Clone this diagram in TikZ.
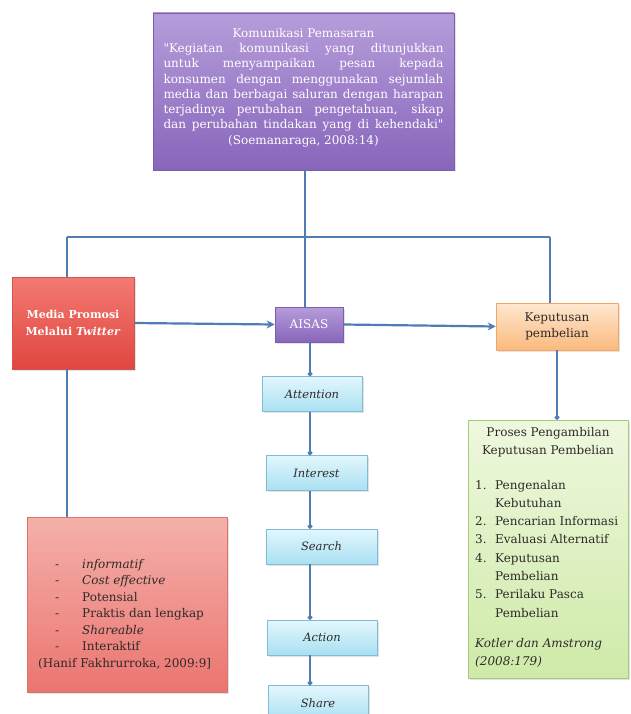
\documentclass[tikz,border=0pt]{standalone}
\usepackage{fontspec}
\setmainfont{DejaVu Serif}
\newfontfamily\plainfont{DejaVu Serif}
\usetikzlibrary{arrows.meta,shadows}

\definecolor{linkblue}{HTML}{4F7DB3}
\definecolor{purpletop}{HTML}{B59DDA}
\definecolor{purplebot}{HTML}{8865BB}
\definecolor{purpleedge}{HTML}{7E5DAE}
\definecolor{redtop}{HTML}{F27A72}
\definecolor{redbot}{HTML}{E0463F}
\definecolor{rededge}{HTML}{D0564F}
\definecolor{pinktop}{HTML}{F5B0AA}
\definecolor{pinkbot}{HTML}{EB7570}
\definecolor{pinkedge}{HTML}{D9746E}
\definecolor{orangetop}{HTML}{FEE8D0}
\definecolor{orangebot}{HTML}{FAB97E}
\definecolor{orangeedge}{HTML}{F2A766}
\definecolor{greentop}{HTML}{EEF8DE}
\definecolor{greenbot}{HTML}{CFEAA8}
\definecolor{greenedge}{HTML}{A5CC7E}
\definecolor{cyantop}{HTML}{E3F7FD}
\definecolor{cyanbot}{HTML}{A9E0F2}
\definecolor{cyanedge}{HTML}{80BCD6}
\definecolor{textdark}{HTML}{2E2A2A}

\newcommand{\fullline}[1]{\makebox[280pt][s]{#1}}

\begin{document}
\begin{tikzpicture}[x=1pt, y=-1pt,
  box/.style={draw, rectangle, line width=0.6pt, inner sep=0pt,
    drop shadow={opacity=0.22, shadow xshift=1.5pt, shadow yshift=-1.5pt}},
  link/.style={line width=2.2pt, draw=linkblue},
  dotlink/.style={link, -{Circle[length=4.5pt]}},
  arrowlink/.style={link, -{Stealth[length=8pt, width=8pt]}},
  stage/.style={box, draw=cyanedge, top color=cyantop, bottom color=cyanbot,
    minimum height=35pt, text=textdark, font=\itshape\fontsize{11.5pt}{14pt}\selectfont},
  body/.style={text=textdark, inner sep=0pt, font=\fontsize{12pt}{18.3pt}\selectfont},
]
\useasboundingbox[fill=white] (0,0) rectangle (630,714);

% Boxes
\node[box, draw=purpleedge, top color=purpletop, bottom color=purplebot,
  minimum width=301pt, minimum height=157pt] (komunikasi) at (303.5,91.5) {};
\node[text=white, align=center, inner sep=0pt,
  font=\plainfont\fontsize{12pt}{15.3pt}\selectfont] (definisi) at (303.5,87.5)
  {Komunikasi Pemasaran\\
   \fullline{"Kegiatan komunikasi yang ditunjukkan}\\
   \fullline{untuk menyampaikan pesan kepada}\\
   \fullline{konsumen dengan menggunakan sejumlah}\\
   \fullline{media dan berbagai saluran dengan harapan}\\
   \fullline{terjadinya perubahan pengetahuan, sikap}\\
   \fullline{dan perubahan tindakan yang di kehendaki"}\\
   (Soemanaraga, 2008:14)};
\node[box, draw=rededge, top color=redtop, bottom color=redbot,
  minimum width=122pt, minimum height=92pt, text=white, align=center,
  font=\bfseries\fontsize{11pt}{17pt}\selectfont] (media) at (73,323)
  {Media Promosi\\Melalui \textit{Twitter}};
\node[box, draw=purpleedge, top color=purpletop, bottom color=purplebot,
  minimum width=68pt, minimum height=35pt, text=white,
  font=\fontsize{12pt}{14pt}\selectfont] (aisas) at (309,324.5) {AISAS};
\node[box, draw=orangeedge, top color=orangetop, bottom color=orangebot,
  minimum width=122pt, minimum height=47pt, text=textdark, align=center,
  font=\fontsize{12pt}{16pt}\selectfont] (keputusan) at (557,326.5)
  {Keputusan\\pembelian};
\node[box, draw=pinkedge, top color=pinktop, bottom color=pinkbot,
  minimum width=200pt, minimum height=175pt] (karakter) at (127,604.5) {};
\node[box, draw=greenedge, top color=greentop, bottom color=greenbot,
  minimum width=160pt, minimum height=258pt] (proses) at (548,549) {};

\node[stage, minimum width=100pt] (attention) at (312,394) {Attention};
\node[stage, minimum width=101pt] (interest) at (316.5,473) {Interest};
\node[stage, minimum width=111pt] (search) at (321.5,546.5) {Search};
\node[stage, minimum width=110pt] (action) at (322,637.5) {Action};
\node[stage, minimum width=100pt] (share) at (318,703) {Share};

% Lines
\coordinate (jL) at (67,237);
\coordinate (jM) at (305,237);
\coordinate (jR) at (550,237);
\coordinate (spine) at (310,0);
\draw[link] (komunikasi.south -| jM) -- (jM);
\draw[link] (jL) -- (jR);
\draw[link] (jL) -- (jL |- media.north);
\draw[link] (jM) -- (jM |- aisas.north);
\draw[link] (jR) -- (jR |- keputusan.north);
\draw[arrowlink] (media.east) -- (aisas.west);
\draw[arrowlink] (aisas.east) -- (keputusan.west);
\draw[link] (media.south -| jL) -- (jL |- karakter.north);
\draw[dotlink] (keputusan.south) -- (keputusan.south |- proses.north);
\draw[dotlink] (aisas.south -| spine) -- (spine |- attention.north);
\draw[dotlink] (attention.south -| spine) -- (spine |- interest.north);
\draw[dotlink] (interest.south -| spine) -- (spine |- search.north);
\draw[dotlink] (search.south -| spine) -- (spine |- action.north);
\draw[dotlink] (action.south -| spine) -- (spine |- share.north);

% Labels
\node[body, anchor=north west, font=\fontsize{12pt}{16.5pt}\selectfont] (karaktertext) at (38,556.5)
  {\begin{tabular}{@{\hspace{17pt}}p{27pt}@{}l@{}}
   - & \textit{informatif}\\
   - & \textit{Cost effective}\\
   - & Potensial\\
   - & Praktis dan lengkap\\
   - & \textit{Shareable}\\
   - & Interaktif\\
   \multicolumn{2}{@{}l@{}}{(Hanif Fakhrurroka, 2009:9]}
   \end{tabular}};
\node[body, align=center] (prosestitle) at (548,442)
  {Proses Pengambilan\\Keputusan Pembelian};
\node[body, anchor=north west] (proseslist) at (475,476)
  {\begin{tabular}{@{}p{20pt}@{}l@{}}
   1. & Pengenalan\\
      & Kebutuhan\\
   2. & Pencarian Informasi\\
   3. & Evaluasi Alternatif\\
   4. & Keputusan\\
      & Pembelian\\
   5. & Perilaku Pasca\\
      & Pembelian
   \end{tabular}};
\node[body, anchor=north west, font=\itshape\fontsize{12pt}{18.3pt}\selectfont] (sumber) at (475,634)
  {\begin{tabular}{@{}l@{}}
   Kotler dan Amstrong\\
   (2008:179)
   \end{tabular}};
\end{tikzpicture}
\end{document}
